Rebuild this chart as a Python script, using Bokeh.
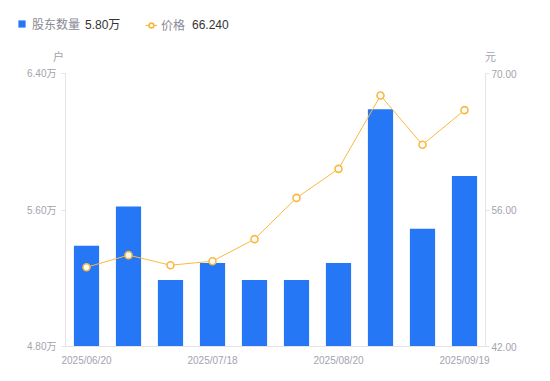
from bokeh.plotting import figure
from bokeh.layouts import column
from bokeh.models import (Range1d, LinearAxis, FixedTicker, PrintfTickFormatter,
                          Legend, LegendItem, ColumnDataSource)
from bokeh.embed import file_html
from bokeh.resources import INLINE

dates = ["2025/06/20", "2025/06/30", "2025/07/10", "2025/07/18", "2025/07/31",
         "2025/08/10", "2025/08/20", "2025/08/31", "2025/09/10", "2025/09/19"]
holders = [5.39, 5.62, 5.19, 5.29, 5.19, 5.19, 5.29, 6.19, 5.49, 5.80]  # 万户
price = [50.13, 51.37, 50.34, 50.75, 53.01, 57.24, 60.22, 67.74, 62.69, 66.24]
left_ticks = [4.80, 5.60, 6.40]
right_ticks = [42.00, 56.00, 70.00]
shown_dates = ["2025/06/20", "2025/07/18", "2025/08/20", "2025/09/19"]

FONT = "Liberation Sans, Noto Sans CJK SC"
GREY = "#a3a3ad"
LEGEND_GREY = "#8a8a96"
DARK = "#333333"
AXIS = "#e3e3e8"
BLUE = "#2577f5"
ORANGE = "#fbb83f"

HEADER_H = 65
W = 550

idx = list(range(len(dates)))
src = ColumnDataSource(dict(x=idx, holders=holders, price=price, date=dates))

# ---------------- main chart ----------------
p = figure(frame_width=420, frame_height=273, output_backend="svg", toolbar_location=None,
           x_range=Range1d(-0.5, len(dates) - 0.5), y_range=Range1d(left_ticks[0], left_ticks[-1]),
           min_border_left=65, min_border_right=65, min_border_top=8, min_border_bottom=30,
           y_axis_location=None, x_axis_location=None)
p.outline_line_color = None
p.xgrid.visible = False
p.ygrid.visible = False
p.extra_y_ranges = {"price": Range1d(right_ticks[0], right_ticks[-1])}

def style_axis(ax, size="10px"):
    ax.axis_line_color = AXIS
    ax.major_tick_line_color = AXIS
    ax.minor_tick_line_color = None
    ax.major_tick_in = 0
    ax.major_label_text_color = GREY
    ax.major_label_text_font = FONT
    ax.major_label_text_font_size = size

xa = LinearAxis(ticker=FixedTicker(ticks=[dates.index(d) for d in shown_dates]))
xa.major_label_overrides = {dates.index(d): d for d in shown_dates}
style_axis(xa)
xa.major_tick_line_color = None
xa.major_tick_out = 0
xa.major_label_standoff = 8
p.add_layout(xa, "below")

ya = LinearAxis(ticker=FixedTicker(ticks=left_ticks), formatter=PrintfTickFormatter(format="%.2f万"))
style_axis(ya)
ya.major_tick_out = 4
ya.major_label_standoff = 5
p.add_layout(ya, "left")

yr = LinearAxis(y_range_name="price", ticker=FixedTicker(ticks=right_ticks),
                formatter=PrintfTickFormatter(format="%.2f"))
style_axis(yr)
yr.major_tick_out = 4
yr.major_label_standoff = 2
p.add_layout(yr, "right")

p.vbar(x="x", top="holders", bottom=left_ticks[0], width=0.6, source=src,
       fill_color=BLUE, line_color=None)
p.line(x="x", y="price", source=src, y_range_name="price", line_color=ORANGE, line_width=1)
p.scatter(x="x", y="price", source=src, y_range_name="price", size=7, marker="circle",
          fill_color="white", line_color=ORANGE, line_width=1.6)

# ---------------- header (legend, values, axis units) ----------------
h = figure(frame_width=W, frame_height=HEADER_H, output_backend="svg", toolbar_location=None,
           x_range=Range1d(0, W), y_range=Range1d(0, HEADER_H), min_border=0,
           x_axis_location=None, y_axis_location=None)
h.outline_line_color = None
h.xgrid.visible = False
h.ygrid.visible = False

nan = float("nan")
blank = ColumnDataSource(dict(x=[nan], y=[nan]))
hb = h.vbar(x="x", top="y", width=1, source=blank, fill_color=BLUE, line_color=None)
hl = h.line(x="x", y="y", source=blank, line_color=ORANGE, line_width=1.2)
hs = h.scatter(x="x", y="y", source=blank, marker="circle", size=7, fill_color="white",
               line_color=ORANGE, line_width=1.6)
ghost = h.scatter(x="x", y="y", source=blank, marker="circle", size=0,
                  fill_alpha=0, line_alpha=0)

def make_legend(label, renderers, loc, gw, color, size="12px", standoff=6, gh=9):
    return Legend(items=[LegendItem(label=label, renderers=renderers)], location=loc,
                  padding=0, margin=0, spacing=0, glyph_width=gw, glyph_height=gh,
                  label_standoff=standoff, label_height=14, label_text_font_size=size,
                  label_text_color=color, label_text_font=FONT,
                  border_line_color=None, background_fill_alpha=0)

ROW_Y = 33
h.add_layout(make_legend("股东数量", [hb], (17, ROW_Y), 9, LEGEND_GREY))
h.add_layout(make_legend("价格", [hl, hs], (145, ROW_Y - 1), 12, LEGEND_GREY, standoff=4, gh=16))
h.add_layout(make_legend("%.2f万" % holders[-1], [ghost], (84, ROW_Y), 1, DARK, standoff=0))
h.add_layout(make_legend("%.3f" % price[-1], [ghost], (191, ROW_Y), 1, DARK, standoff=0))
h.add_layout(make_legend("户", [ghost], (52, 1), 1, GREY, "11px", standoff=0))
h.add_layout(make_legend("元", [ghost], (484, 1), 1, GREY, "11px", standoff=0))

layout = column(h, p, spacing=0)
open("out.html", "w").write(file_html(layout, INLINE))
